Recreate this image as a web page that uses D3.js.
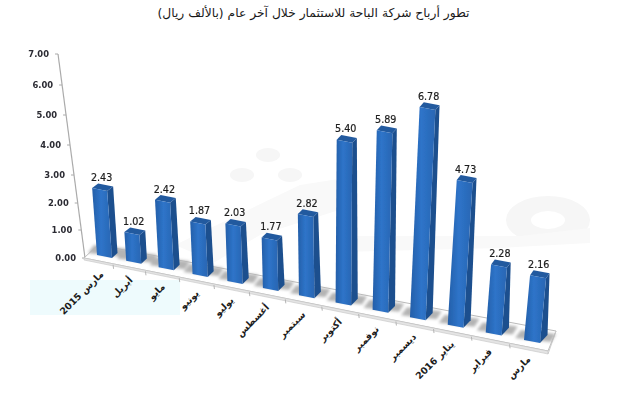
<!DOCTYPE html>
<html lang="ar"><head><meta charset="utf-8">
<script src="https://cdn.jsdelivr.net/npm/d3@7"></script>
<style>html,body{margin:0;padding:0;background:#fff}svg{display:block}</style></head>
<body><div id="c"></div>
<script>
const title = "تطور أرباح شركة الباحة للاستثمار خلال آخر عام (بالألف ريال)";
const categories = ["مارس 2015","أبريل","مايو","يونيو","يوليو","أغسطس","سبتمبر","أكتوبر","نوفمبر","ديسمبر","يناير 2016","فبراير","مارس"];
const values = [2.43,1.02,2.42,1.87,2.03,1.77,2.82,5.40,5.89,6.78,4.73,2.28,2.16];
const yTicks = [0,1,2,3,4,5,6,7];

const W=640,H=400;
const svg=d3.select("#c").append("svg").attr("width",W).attr("height",H).attr("viewBox",[0,0,W,H]);
const defs=svg.append("defs");
const g1=defs.append("linearGradient").attr("id","front");
[[0,"#245fa9"],[.45,"#2e74c9"],[1,"#2966b3"]].forEach(s=>g1.append("stop").attr("offset",s[0]).attr("stop-color",s[1]));
defs.append("filter").attr("id","blur").attr("x","-30%").attr("y","-60%").attr("width","160%").attr("height","220%")
  .append("feGaussianBlur").attr("stdDeviation",1.8);
defs.append("filter").attr("id","soft").append("feGaussianBlur").attr("stdDeviation",0.3);

// perspective scales
const t=d3.scaleLinear().domain([0,categories.length-1]).range([0,1]);
const pow=d3.scalePow().exponent(1.08).domain([0,1]).range([0,1]);
const xBase=d3.scaleLinear().domain([0,1]).range([97,524]);
const yBase=d3.scaleLinear().domain([0,1]).range([255,340]);
const yAxisH=d3.scaleLinear().domain(yTicks).range([0,28,55,83,113,143,173,204]);
const axisY=d3.scaleLinear().domain([0,204]).range([258,54]);
const axisX=d3.scaleLinear().domain([0,204]).range([85,58]);
const grow=d3.scaleLinear().domain([0,1]).range([1,1.09]);
const lean=d3.scaleLinear().domain([97,300,335,372,408,446,524]).range([-2,-.4,.2,.7,1.4,1.9,2.8]);
const barW=d3.scaleLinear().domain([0,1]).range([15,16]);
const baseDx=d3.scaleLinear().domain([0,1]).range([5.5,7.5]);
const baseDy=d3.scaleLinear().domain([0,1]).range([5,8]);
const topDx=d3.scaleLinear().domain([0,1]).range([6,3.5]);
const topDy=d3.scaleLinear().domain([0,1]).range([4.5,5]);

// watermark
const wm=svg.append("g").attr("fill","#f6f6f6").attr("filter","url(#soft)");
wm.append("rect").attr("x",30).attr("y",280).attr("width",150).attr("height",35).attr("fill","#eefbfd");
[[268,155,12,7],[242,175,12,7],[290,175,12,7]].forEach(e=>wm.append("ellipse").attr("cx",e[0]).attr("cy",e[1]).attr("rx",e[2]).attr("ry",e[3]));
wm.append("path").attr("fill-rule","evenodd").attr("d",
 "M506 220a42 24 0 1 0 84 0a42 24 0 1 0 -84 0ZM531 220a17 9 0 1 0 34 0a17 9 0 1 0 -34 0Z");
wm.append("path").attr("fill","#f9f9f9").attr("d","M175 245L300 185L345 178L355 205L260 235L215 262Z");
wm.append("path").attr("fill","#f9f9f9").attr("d","M340 236L520 236L590 228L590 243L500 248L340 252Z");

// axis wall line
const ax=svg.append("g").attr("filter","url(#soft)");
ax.append("line").attr("x1",axisX(204)).attr("y1",axisY(204)).attr("x2",axisX(0)).attr("y2",axisY(0)).attr("stroke","#aaa").attr("stroke-width",1.2);
ax.selectAll("line.tk").data(yTicks).join("line").attr("class","tk")
  .attr("x1",d=>axisX(yAxisH(d))-3).attr("x2",d=>axisX(yAxisH(d)))
  .attr("y1",d=>axisY(yAxisH(d))).attr("y2",d=>axisY(yAxisH(d))).attr("stroke","#aaa");
ax.selectAll("text.tl").data(yTicks).join("text").attr("class","tl")
  .attr("x",d=>axisX(yAxisH(d))-9).attr("y",d=>axisY(yAxisH(d))+3)
  .attr("text-anchor","end").attr("font-family","DejaVu Sans").attr("font-weight","bold").attr("font-size",8.4).attr("fill","#2b2b33")
  .text(d=>d3.format(".2f")(d));

// floor
const floorT=d3.scalePow().exponent(1.08).domain([0,categories.length]).range([0,1]);
const edgeX=d3.scaleLinear().domain([0,1]).range([84,548]);
const edgeY=d3.scaleLinear().domain([0,1]).range([258,351]);
const fl=svg.append("g");
fl.append("path").attr("d",d3.line()([[84,258],[98,245],[556,331],[548,351]])+"Z").attr("fill","#fff").attr("stroke","#bbb").attr("stroke-width",1);
fl.append("path").attr("d",d3.line()([[84,258],[548,351],[548,354],[84,260]])+"Z").attr("fill","#e4e4e4").attr("stroke","#c4c4c4").attr("stroke-width",.6);
fl.append("line").attr("x1",548).attr("y1",354).attr("x2",556).attr("y2",331).attr("stroke","#ccc");
fl.selectAll("line.ft").data(d3.range(1,categories.length)).join("line").attr("class","ft")
  .attr("x1",d=>edgeX(floorT(d))).attr("x2",d=>edgeX(floorT(d))+.5)
  .attr("y1",d=>edgeY(floorT(d))+1).attr("y2",d=>edgeY(floorT(d))+5).attr("stroke","#b5b5b5");

// bar geometry
function corners(i){
  const p=pow(t(i)), x=xBase(p), y=yBase(p), w=barW(p);
  const h=yAxisH(values[i])*grow(p), dx=lean(x)*values[i];
  const fl=[x,y], fr=[x+w,y+3];
  const br=[x+w+baseDx(p),y+3-baseDy(p)];
  const tfl=[x+dx,y-h], tfr=[x+w+dx,y+3-h];
  const tbr=[tfr[0]+topDx(p),tfr[1]-topDy(p)], tbl=[tfl[0]+topDx(p),tfl[1]-topDy(p)];
  return {p,x,y,w,fl,fr,br,tfl,tfr,tbr,tbl};
}
const line=d3.line();
const idx=d3.range(values.length);

// shadows
svg.append("g").attr("filter","url(#blur)").selectAll("path").data(idx).join("path")
  .attr("d",i=>{const c=corners(i);return line([[c.x-9,c.y-2],[c.x+c.w+11,c.y+2],[c.x+c.w+16,c.y-6],[c.x-3,c.y-10]])+"Z";})
  .attr("fill","#b4b4b4");

// bars
const bars=svg.append("g").attr("filter","url(#soft)").selectAll("g").data(idx).join("g");
bars.append("path").attr("d",i=>{const c=corners(i);return line([c.fr,c.br,c.tbr,c.tfr])+"Z";}).attr("fill","#1c4f8e");
bars.append("path").attr("d",i=>{const c=corners(i);return line([c.tfl,c.tfr,c.tbr,c.tbl])+"Z";}).attr("fill","#245a9f");
bars.append("path").attr("d",i=>{const c=corners(i);return line([c.fl,c.fr,c.tfr,c.tfl])+"Z";}).attr("fill","url(#front)");

// value labels
svg.append("g").attr("filter","url(#soft)").selectAll("text").data(idx).join("text")
  .attr("x",i=>{const c=corners(i);return (c.tfl[0]+c.tbr[0])/2-1;})
  .attr("y",i=>corners(i).tbl[1]-2.5)
  .attr("text-anchor","middle").attr("font-family","DejaVu Sans").attr("font-size",9.6).attr("fill","#1c1c1c")
  .attr("stroke","#1c1c1c").attr("stroke-width",.2)
  .text(i=>d3.format(".2f")(values[i]));

// category labels
svg.append("g").selectAll("text").data(idx).join("text")
  .attr("transform",i=>{const c=corners(i);return `translate(${c.x+7},${c.y+20}) rotate(-45)`;})
  .attr("text-anchor","start").attr("direction","rtl").attr("font-family","DejaVu Sans").attr("font-weight","bold").attr("font-size",9.4).attr("fill","#1c1c1c")
  .text(i=>categories[i]);

// title
svg.append("text").attr("x",313.5).attr("y",17).attr("text-anchor","middle").attr("direction","rtl")
  .attr("font-family","DejaVu Sans").attr("font-size",12.3).attr("fill","#1a1a1a").text(title);
</script></body></html>
